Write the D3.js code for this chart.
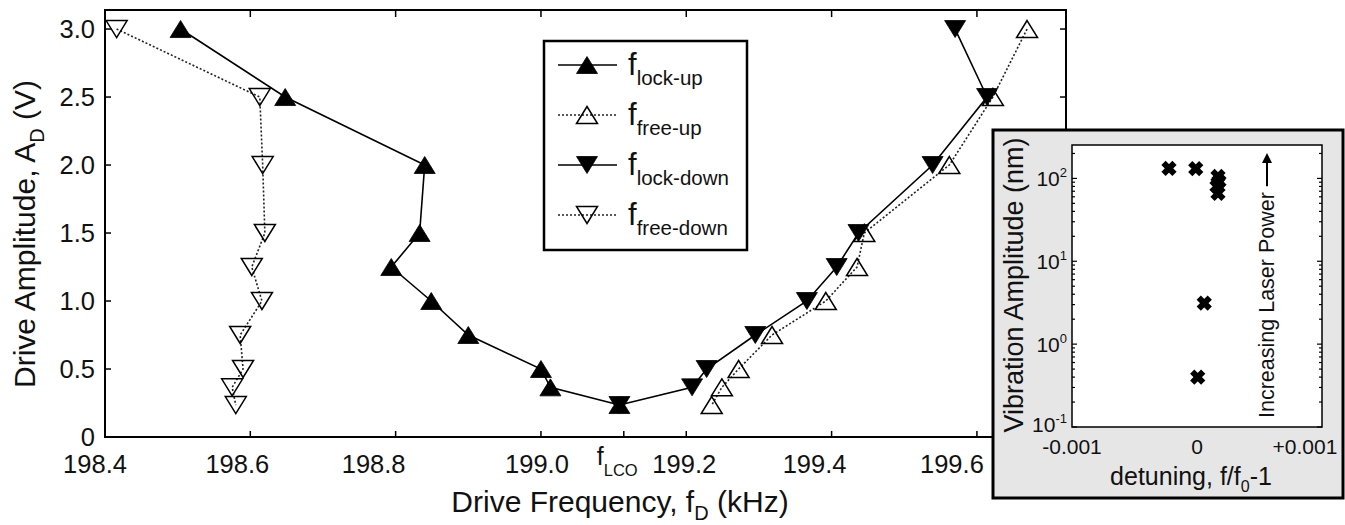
<!DOCTYPE html>
<html>
<head>
<meta charset="utf-8">
<script src="https://cdn.jsdelivr.net/npm/d3@7"></script>
<style>
  html, body { margin: 0; padding: 0; background: #fff; }
  svg { display: block; font-family: "Liberation Sans", Arial, sans-serif; }
</style>
</head>
<body>
<svg id="chart" width="1345" height="525"></svg>
<script>
// ---------- data ----------
const xTicks = [198.4, 198.6, 198.8, 199.0, 199.2, 199.4, 199.6];
const xTickLabels = ["198.4", "198.6", "198.8", "199.0", "199.2", "199.4", "199.6"];
const yTicks = [0, 0.5, 1.0, 1.5, 2.0, 2.5, 3.0];
const yTickLabels = ["0", "0.5", "1.0", "1.5", "2.0", "2.5", "3.0"];
const fLCO = 199.114;

const amplitudes = [3.0, 2.5, 2.0, 1.5, 1.25, 1.0, 0.75, 0.5, 0.365, 0.235];
const lockUp   = [198.504, 198.648, 198.840, 198.833, 198.794, 198.849, 198.900, 199.000, 199.013, 199.108];
const freeUp   = [199.669, 199.622, 199.562, 199.445, 199.435, 199.392, 199.318, 199.272, 199.249, 199.235];
const lockDown = [199.570, 199.614, 199.539, 199.437, 199.407, 199.366, 199.295, 199.228, 199.208, 199.108];
const freeDown = [198.416, 198.613, 198.617, 198.620, 198.602, 198.616, 198.586, 198.590, 198.575, 198.580];

const seriesNames = ["lock-up", "free-up", "lock-down", "free-down"];

// inset
const insetDetuning = [-0.000224, -0.00001, 0.000168, 0.000176, 0.000160, 0.000168, 0.000058, 0.0000056];
const insetAmplitude = [132, 131, 106, 92, 80, 66, 3.13, 0.40];
const insetYTicks = [0.1, 1, 10, 100];
const insetYExp = ["-1", "0", "1", "2"];
const insetXTicks = [-0.001, 0, 0.001];
const insetXTickLabels = ["-0.001", "0", "+0.001"];

// ---------- setup ----------
const svg = d3.select("#chart");
const x = d3.scaleLinear().domain([198.4, 199.7226]).range([105, 1066]);
const y = d3.scaleLinear().domain([0, 3.14]).range([437, 10]);

// label nudges (styling only, as in the original figure's typesetting)
const xLabelNudge = [-10, -13, -22, -4, -2, -17, -25];

const upTri = "M0,-8.5L10.5,8.5L-10.5,8.5Z";
const downTri = "M0,8.5L10.5,-8.5L-10.5,-8.5Z";

const seriesDefs = [
  { name: seriesNames[0], xs: lockUp,   shape: upTri,   filled: true },
  { name: seriesNames[1], xs: freeUp,   shape: upTri,   filled: false },
  { name: seriesNames[2], xs: lockDown, shape: downTri, filled: true },
  { name: seriesNames[3], xs: freeDown, shape: downTri, filled: false }
];

function lineStyle(sel, filled) {
  if (filled) sel.attr("stroke", "#000").attr("stroke-width", 1.6);
  else sel.attr("stroke", "#222").attr("stroke-width", 1.6).attr("stroke-dasharray", "2,2");
}
function markerStyle(sel, filled) {
  if (filled) sel.attr("fill", "#000").attr("stroke", "#000").attr("stroke-width", 0.8);
  else sel.attr("fill", "none").attr("stroke", "#000").attr("stroke-width", 1.5);
}

// ---------- main frame ----------
svg.append("rect")
  .attr("x", x.range()[0]).attr("y", y.range()[1])
  .attr("width", x.range()[1] - x.range()[0]).attr("height", y.range()[0] - y.range()[1])
  .attr("fill", "none").attr("stroke", "#000").attr("stroke-width", 2);

// x ticks (bottom + top, inward)
const gx = svg.append("g");
xTicks.forEach((t, i) => {
  gx.append("line").attr("x1", x(t)).attr("x2", x(t)).attr("y1", y(0)).attr("y2", y(0) - 6)
    .attr("stroke", "#000").attr("stroke-width", 1.5);
  gx.append("line").attr("x1", x(t)).attr("x2", x(t)).attr("y1", y.range()[1]).attr("y2", y.range()[1] + 7)
    .attr("stroke", "#000").attr("stroke-width", 1.5);
  gx.append("text").attr("x", x(t) + xLabelNudge[i]).attr("y", 473)
    .attr("text-anchor", "middle").attr("font-size", 25.5).attr("fill", "#111")
    .text(xTickLabels[i]);
});
// fLCO tick + label
gx.append("line").attr("x1", x(fLCO)).attr("x2", x(fLCO)).attr("y1", y(0)).attr("y2", y(0) - 6)
  .attr("stroke", "#000").attr("stroke-width", 1.5);
const lco = gx.append("text").attr("x", x(fLCO) - 27).attr("y", 465)
  .attr("text-anchor", "start").attr("font-size", 25).attr("fill", "#111");
lco.append("tspan").text("f");
lco.append("tspan").attr("font-size", 16.5).attr("dy", 11).text("LCO");

// y ticks (left + right, inward)
const gy = svg.append("g");
yTicks.forEach((t, i) => {
  gy.append("line").attr("x1", x.range()[0]).attr("x2", x.range()[0] + 6).attr("y1", y(t)).attr("y2", y(t))
    .attr("stroke", "#000").attr("stroke-width", 1.5);
  gy.append("line").attr("x1", x.range()[1]).attr("x2", x.range()[1] - 6).attr("y1", y(t)).attr("y2", y(t))
    .attr("stroke", "#000").attr("stroke-width", 1.5);
  gy.append("text").attr("x", x.range()[0] - 10).attr("y", y(t) + 9)
    .attr("text-anchor", "end").attr("font-size", 25.5).attr("fill", "#111")
    .text(yTickLabels[i]);
});

// axis titles
const xt = svg.append("text").attr("x", 620).attr("y", 512)
  .attr("text-anchor", "middle").attr("font-size", 30).attr("fill", "#111");
xt.append("tspan").text("Drive Frequency, f");
xt.append("tspan").attr("font-size", 20).attr("dy", 8).text("D");
xt.append("tspan").attr("dy", -8).text(" (kHz)");

const yt = svg.append("text").attr("transform", "translate(35,234) rotate(-90)")
  .attr("text-anchor", "middle").attr("font-size", 30).attr("fill", "#111");
yt.append("tspan").text("Drive Amplitude, A");
yt.append("tspan").attr("font-size", 20).attr("dy", 9).text("D");
yt.append("tspan").attr("dy", -9).text(" (V)");

// ---------- series ----------
const line = d3.line().x(d => x(d[0])).y(d => y(d[1]));
const gLines = svg.append("g");
const gMarks = svg.append("g");
seriesDefs.forEach(s => {
  const pts = s.xs.map((v, i) => [v, amplitudes[i]]);
  gLines.append("path").attr("d", line(pts)).attr("fill", "none").call(lineStyle, s.filled);
  gMarks.selectAll(null).data(pts).enter().append("path")
    .attr("d", s.shape)
    .attr("transform", d => `translate(${x(d[0])},${y(d[1])})`)
    .call(markerStyle, s.filled);
});

// ---------- legend ----------
const lg = svg.append("g");
lg.append("rect").attr("x", 544).attr("y", 41).attr("width", 203).attr("height", 209)
  .attr("fill", "#fff").attr("stroke", "#000").attr("stroke-width", 2.5);
seriesDefs.forEach((s, i) => {
  const cy = 65 + i * 50;
  lg.append("line").attr("x1", 558).attr("x2", 617).attr("y1", cy).attr("y2", cy).call(lineStyle, s.filled);
  lg.append("path").attr("d", s.shape).attr("transform", `translate(587,${cy})`).call(markerStyle, s.filled);
  const t = lg.append("text").attr("x", 628).attr("y", cy + 10).attr("font-size", 31).attr("fill", "#111");
  t.append("tspan").text("f");
  t.append("tspan").attr("font-size", 20.5).attr("dy", 10).text(s.name);
});

// ---------- inset ----------
const ins = svg.append("g");
ins.append("rect").attr("x", 993).attr("y", 130).attr("width", 350).attr("height", 368)
  .attr("fill", "#e6e6e6").attr("stroke", "#000").attr("stroke-width", 3);

const xi = d3.scaleLinear().domain([-0.001, 0.001]).range([1072, 1322]);
const yi = d3.scaleLog().domain([0.1, 253]).range([427, 145]);

ins.append("rect").attr("x", xi.range()[0]).attr("y", yi.range()[1])
  .attr("width", xi.range()[1] - xi.range()[0]).attr("height", yi.range()[0] - yi.range()[1])
  .attr("fill", "#fff").attr("stroke", "#000").attr("stroke-width", 1.5);

// log ticks
const minor = [];
for (let e = -1; e <= 2; e++) for (let m = 1; m <= 9; m++) {
  const v = m * Math.pow(10, e);
  if (v >= 0.1 && v <= 253) minor.push(v);
}
minor.forEach(v => {
  const major = Math.abs(Math.log10(v) - Math.round(Math.log10(v))) < 1e-9;
  const len = major ? 5 : 3;
  ins.append("line").attr("x1", xi.range()[0]).attr("x2", xi.range()[0] + len)
    .attr("y1", yi(v)).attr("y2", yi(v)).attr("stroke", "#000").attr("stroke-width", 1.2);
  ins.append("line").attr("x1", xi.range()[1]).attr("x2", xi.range()[1] - len)
    .attr("y1", yi(v)).attr("y2", yi(v)).attr("stroke", "#000").attr("stroke-width", 1.2);
});
insetYTicks.forEach((v, i) => {
  const t = ins.append("text").attr("x", 1067).attr("y", yi(v) + (i === 0 ? 5 : 8))
    .attr("text-anchor", "end").attr("font-size", 21).attr("fill", "#111");
  t.append("tspan").text("10");
  t.append("tspan").attr("font-size", 13).attr("dy", -9).text(insetYExp[i]);
});
insetXTicks.forEach((v, i) => {
  const shift = i === 2 ? -17 : 0;
  ins.append("text").attr("x", xi(v) + shift).attr("y", 454)
    .attr("text-anchor", "middle").attr("font-size", 21).attr("fill", "#111")
    .text(insetXTickLabels[i]);
});

// inset titles
const it = ins.append("text").attr("x", 1191).attr("y", 485)
  .attr("text-anchor", "middle").attr("font-size", 25).attr("fill", "#111");
it.append("tspan").text("detuning, f/f");
it.append("tspan").attr("font-size", 16).attr("dy", 7).text("0");
it.append("tspan").attr("dy", -7).text("-1");

ins.append("text").attr("transform", "translate(1023,285) rotate(-90)")
  .attr("text-anchor", "middle").attr("font-size", 27).attr("fill", "#111")
  .text("Vibration Amplitude (nm)");

const ilp = ins.append("text").attr("transform", "translate(1274,418) rotate(-90)")
  .attr("text-anchor", "start").attr("font-size", 21.5).attr("fill", "#111")
  .text("Increasing Laser Power");
const len = ilp.node().getComputedTextLength();
const ax = 1267, ay0 = 418 - len - 6, ay1 = 153;
ins.append("line").attr("x1", ax).attr("x2", ax).attr("y1", ay0).attr("y2", ay1 + 6)
  .attr("stroke", "#000").attr("stroke-width", 2);
ins.append("path").attr("d", `M${ax},${ay1}L${ax - 5},${ay1 + 10}L${ax + 5},${ay1 + 10}Z`).attr("fill", "#000");

// inset markers
ins.selectAll(null).data(insetDetuning.map((d, i) => [d, insetAmplitude[i]])).enter()
  .append("path")
  .attr("d", "M-5.5,-5.5L5.5,5.5M-5.5,5.5L5.5,-5.5")
  .attr("transform", d => `translate(${xi(d[0])},${yi(d[1])})`)
  .attr("stroke", "#000").attr("stroke-width", 6).attr("fill", "none");
</script>
</body>
</html>
